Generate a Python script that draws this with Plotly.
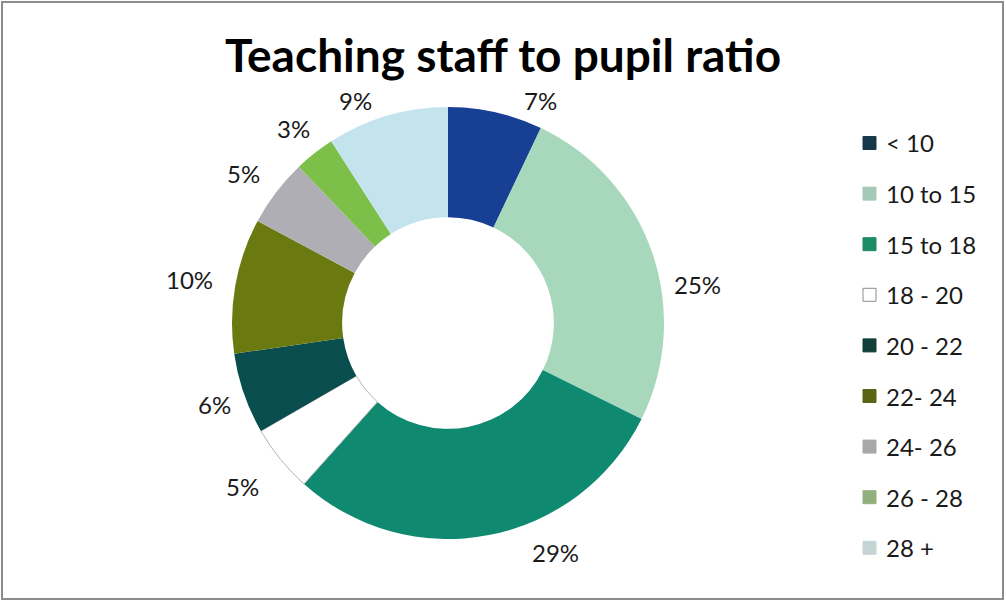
import math
import plotly.graph_objects as go

# Data
categories = ["< 10", "10 to 15", "15 to 18", "18 - 20", "20 - 22",
              "22- 24", "24- 26", "26 - 28", "28 +"]
shares = [7, 25, 29, 5, 6, 10, 5, 3, 9]  # percent of schools

# Styling
slice_colors = ["#173f93", "#a8d8bc", "#0f8a70", "#ffffff", "#0a4d4f",
                "#6a7a10", "#b0aeb5", "#7cc04a", "#c3e4ec"]
legend_colors = ["#17384a", "#a5c9b8", "#1a8c66", "#ffffff", "#123f3a",
                 "#5a6412", "#a8a8a8", "#92b07e", "#c5d5d5"]
# pixel nudges for the percentage labels (best-fit placement)
label_nudge = [(37, 21), (13, 43), (60, -16), (-11, 6), (3, 0),
               (-12, 0), (-6, 2), (0, 2), (-22, 17)]

W, H = 1006, 602
CX, CY, R = 448, 323, 216  # donut centre and outer radius in px
FONT = "Lato"

fig = go.Figure()
fig.add_trace(go.Pie(
    labels=categories,
    values=shares,
    sort=False,
    direction="clockwise",
    rotation=0,
    hole=0.49,
    textinfo="none",
    hoverinfo="label+value",
    showlegend=False,
    marker=dict(
        colors=slice_colors,
        line=dict(color=["rgba(0,0,0,0)"] * 3 + ["#b5b5b5"] + ["rgba(0,0,0,0)"] * 5,
                  width=[0, 0, 0, 1, 0, 0, 0, 0, 0]),
    ),
    domain=dict(x=[(CX - R) / W, (CX + R) / W],
                y=[(H - CY - R) / H, (H - CY + R) / H]),
))

annotations = []
shapes = []

# Percentage labels around the ring
total = sum(shares)
cum = 0.0
label_r = 250
for v, (dx, dy) in zip(shares, label_nudge):
    mid = (cum + v / 2) / total * 2 * math.pi
    cum += v
    px = CX + label_r * math.sin(mid) + dx
    py = CY - label_r * math.cos(mid) + dy
    annotations.append(dict(
        x=px / W, y=1 - py / H, xref="paper", yref="paper",
        text=f"{v}%", showarrow=False,
        font=dict(family=FONT, size=24, color="#1a1a1a"),
        xanchor="center", yanchor="middle",
    ))

# Legend
leg_top, leg_step = 143, 50.6
for i, (name, col) in enumerate(zip(categories, legend_colors)):
    yc = leg_top + i * leg_step
    shapes.append(dict(
        type="rect", xref="paper", yref="paper",
        x0=863 / W, x1=876 / W, y0=1 - (yc + 6.5) / H, y1=1 - (yc - 6.5) / H,
        fillcolor=col,
        line=dict(color="#8a8a8a" if col == "#ffffff" else col, width=1),
    ))
    annotations.append(dict(
        x=884 / W, y=1 - yc / H, xref="paper", yref="paper",
        text=name, showarrow=False,
        font=dict(family=FONT, size=24, color="#1a1a1a"),
        xanchor="left", yanchor="middle",
    ))

# Title
annotations.append(dict(
    x=0.5, y=1 - 55 / H, xref="paper", yref="paper",
    text="<b>Teaching staff to pupil ratio</b>", showarrow=False,
    font=dict(family=FONT, size=46, color="#000000"),
    xanchor="center", yanchor="middle",
))

# Chart border
shapes.append(dict(
    type="rect", xref="paper", yref="paper",
    x0=2 / W, x1=1 - 3 / W, y0=3 / H, y1=1 - 2 / H,
    line=dict(color="#8c8c8c", width=2), fillcolor="rgba(0,0,0,0)",
))

fig.update_layout(
    width=W, height=H,
    margin=dict(l=0, r=0, t=0, b=0),
    paper_bgcolor="#ffffff",
    plot_bgcolor="#ffffff",
    annotations=annotations,
    shapes=shapes,
)

fig.write_html("out.html")
